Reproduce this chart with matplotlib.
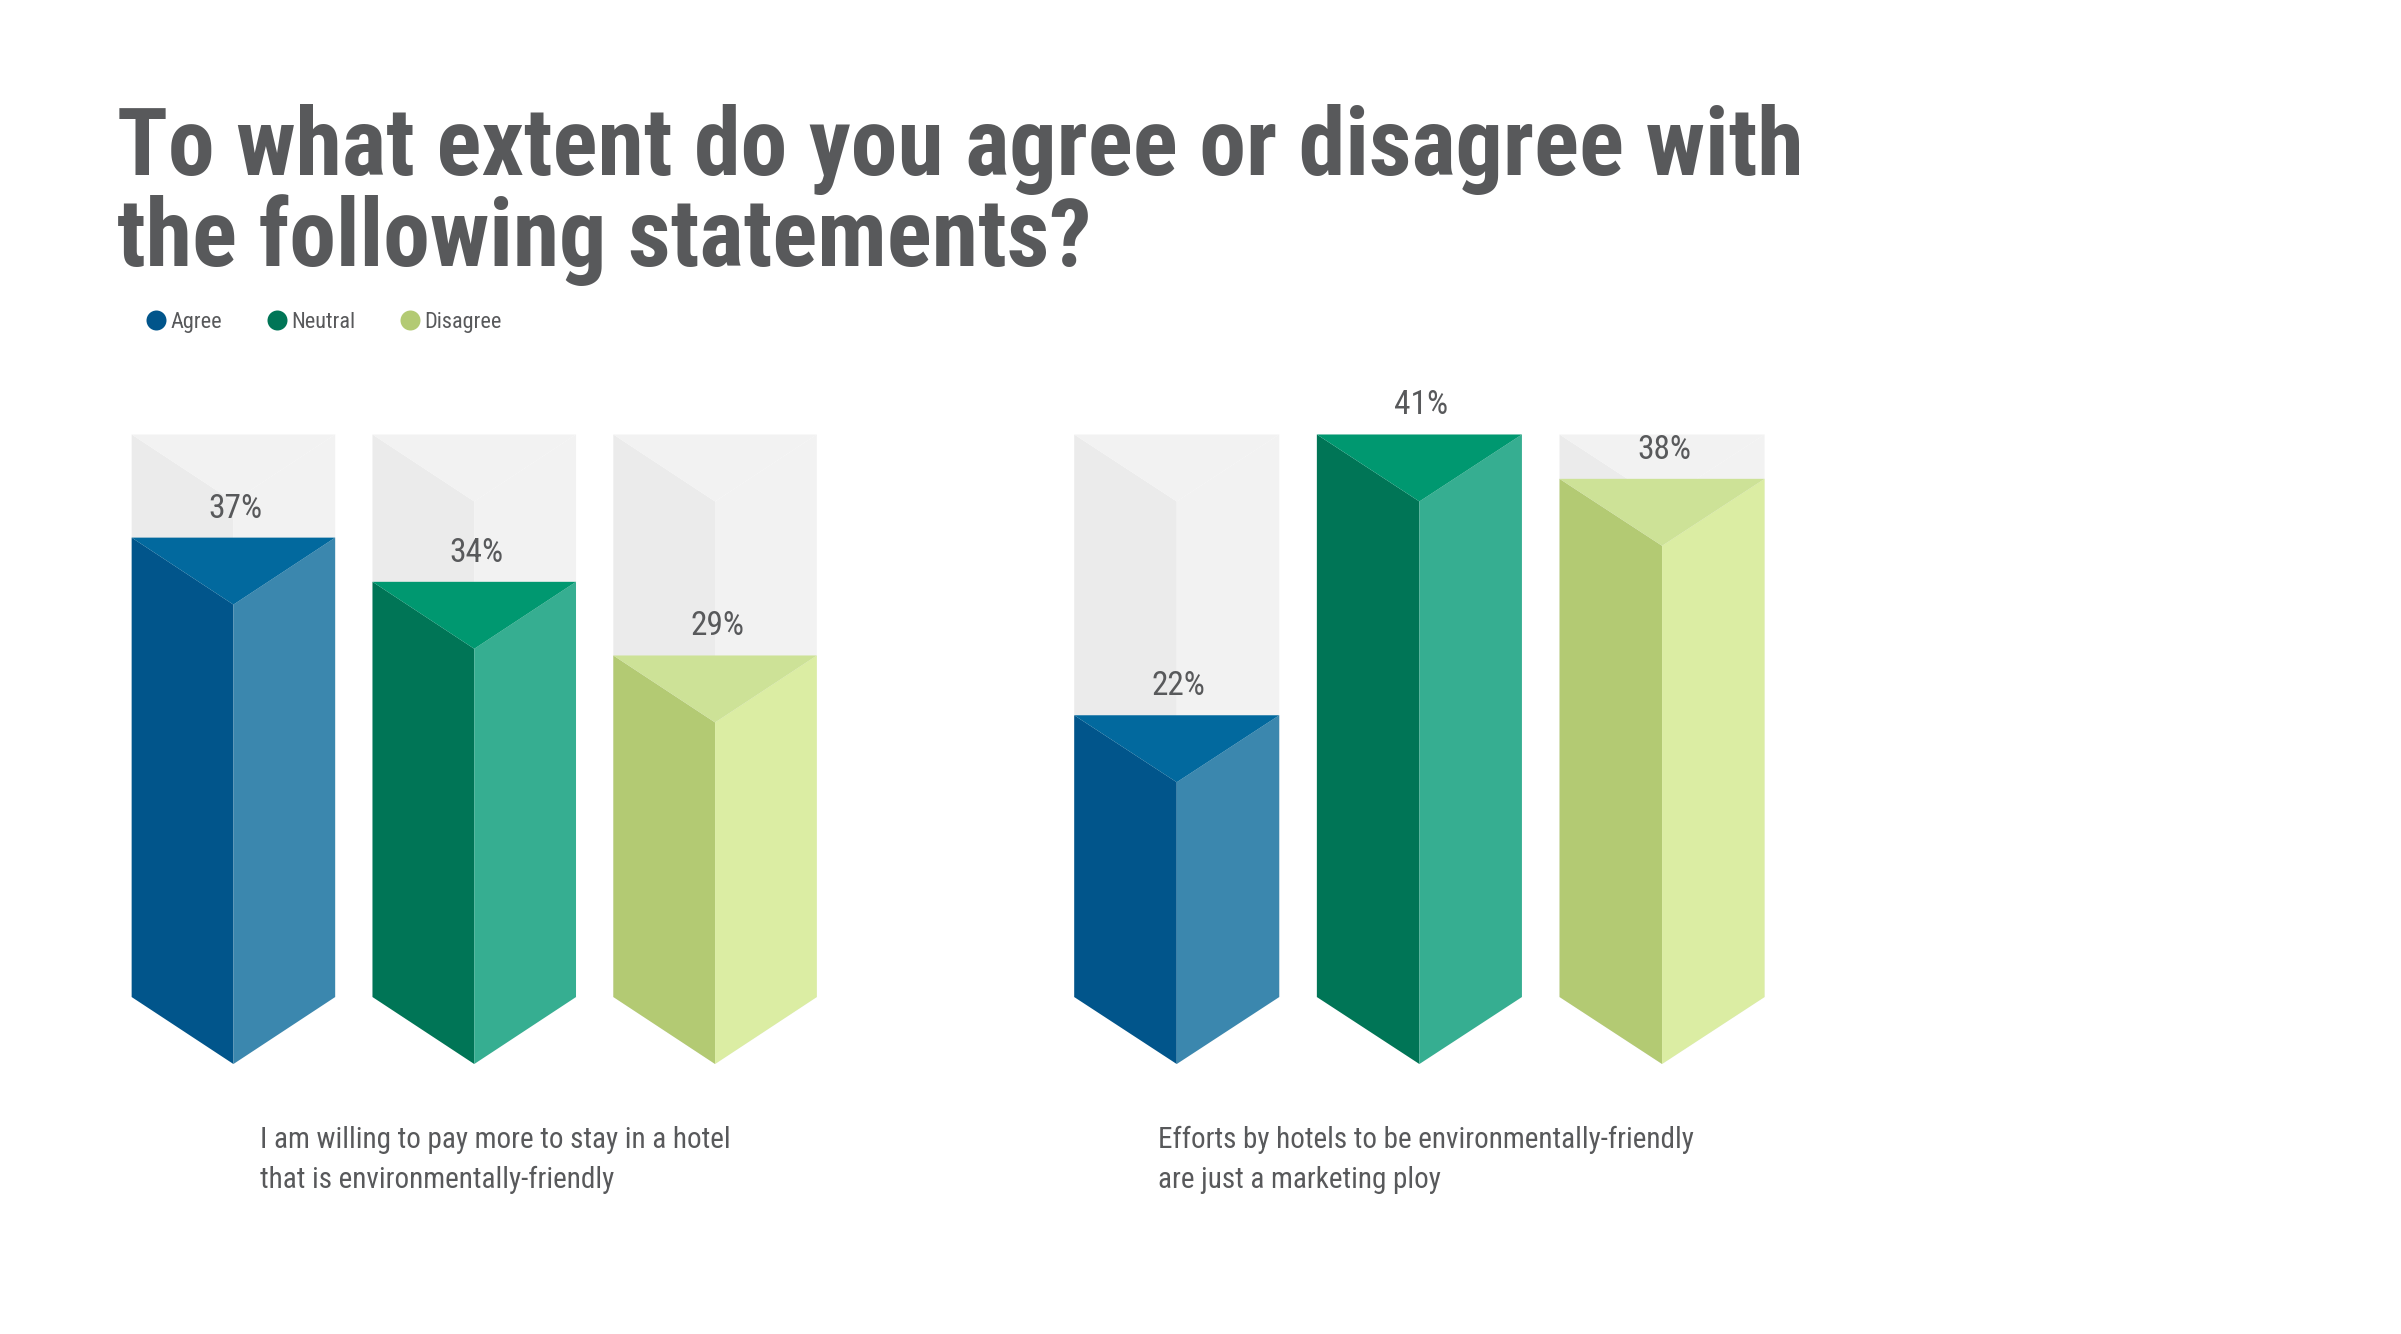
import matplotlib
matplotlib.use("Agg")
import matplotlib.pyplot as plt
from matplotlib.lines import Line2D
from matplotlib.patches import Polygon

# data
responses = ["Agree", "Neutral", "Disagree"]
statements = [
    "I am willing to pay more to stay in a hotel\nthat is environmentally-friendly",
    "Efforts by hotels to be environmentally-friendly\nare just a marketing ploy",
]
pay_more = [37, 34, 29]
marketing_ploy = [22, 41, 38]
panel_values = [pay_more, marketing_ploy]

# styling
TEXT = "#58595b"
FACE_LEFT = ["#01558b", "#007556", "#b3ca73"]
FACE_RIGHT = ["#3b87ae", "#36ae91", "#dbeda3"]
FACE_TOP = ["#02699e", "#009870", "#cde297"]
GREY_LEFT, GREY_RIGHT, GREY_TOP = "#ebebeb", "#f2f2f2", "#f2f2f2"
FONTS = ["Roboto Condensed", "Liberation Sans Narrow", "DejaVu Sans Condensed", "DejaVu Sans"]

plt.rcParams["font.family"] = FONTS

W, H = 2401, 1334
fig = plt.figure(figsize=(W / 100, H / 100), dpi=100)

# per-panel y ranges (the infographic is not drawn on a shared scale)
panel_ylims = [(1.27, 44.0), (-1.6, 41.0)]
panel_x = [(113.0, 722.5), (1055.4, 728.0)]
ax_bottom, ax_top = 1064, 434.5
depth_frac = 0.1064
bar_w = 0.845


def prism(ax, i, top, ylo, d, left, right, cap):
    x0, xc, x1 = i - bar_w / 2, i, i + bar_w / 2
    ax.add_patch(Polygon([(x0, top), (xc, top - d), (xc, ylo), (x0, ylo + d)],
                         closed=True, fc=left, ec="none"))
    ax.add_patch(Polygon([(xc, top - d), (x1, top), (x1, ylo + d), (xc, ylo)],
                         closed=True, fc=right, ec="none"))
    ax.add_patch(Polygon([(x0, top), (x1, top), (xc, top - d)],
                         closed=True, fc=cap, ec="none"))


for p, values in enumerate(panel_values):
    px, pw = panel_x[p]
    ax = fig.add_axes([px / W, 1 - ax_bottom / H, pw / W, (ax_bottom - ax_top) / H])
    ylo, yhi = panel_ylims[p]
    ax.set_xlim(-0.5, len(values) - 0.5)
    ax.set_ylim(ylo, yhi)
    ax.axis("off")
    d = (yhi - ylo) * depth_frac
    for i, v in enumerate(values):
        prism(ax, i, yhi, ylo, d, GREY_LEFT, GREY_RIGHT, GREY_TOP)
        prism(ax, i, v, ylo, d, FACE_LEFT[i], FACE_RIGHT[i], FACE_TOP[i])
        ax.annotate(f"{v}%", (i, v), xytext=(1.5, 14.4), textcoords="offset points",
                    ha="center", va="baseline", fontsize=24, color=TEXT,
                    annotation_clip=False)

# statement captions under each panel
caption_x = [259.5, 1157.5]
for p, text in enumerate(statements):
    for k, line in enumerate(text.split("\n")):
        fig.text(caption_x[p] / W, 1 - (1147.7 + 40 * k) / H, line,
                 ha="left", va="baseline", fontsize=21, color=TEXT)

# title
title_lines = ["To what extent do you agree or disagree with", "the following statements?"]
for k, line in enumerate(title_lines):
    fig.text(117 / W, 1 - (175 + 91 * k) / H, line, ha="left", va="baseline",
             fontsize=67.5, fontweight="black", color=TEXT)

# legend
handles = [Line2D([], [], ls="none", marker="o", ms=14.4, mfc=c, mec="none")
           for c in FACE_LEFT]
fig.legend(handles, responses, loc="center left", bbox_to_anchor=(146 / W, 1 - 322.7 / H),
           ncol=3, frameon=False, fontsize=16, labelcolor=TEXT, handlelength=0.9,
           handletextpad=0.2, columnspacing=2.0, borderpad=0, borderaxespad=0)

fig.savefig("out.png", dpi=100, facecolor="white")
